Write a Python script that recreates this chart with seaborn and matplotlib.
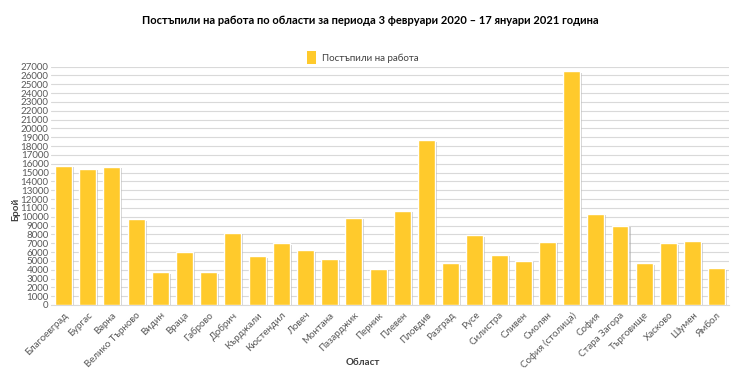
import matplotlib
matplotlib.use("Agg")
import matplotlib.pyplot as plt
import matplotlib.patheffects as pe
from matplotlib.patches import Patch
import seaborn as sns
import pandas as pd
import numpy as np

regions = ["Благоевград", "Бургас", "Варна", "Велико Търново", "Видин", "Враца",
           "Габрово", "Добрич", "Кърджали", "Кюстендил", "Ловеч", "Монтана",
           "Пазарджик", "Перник", "Плевен", "Пловдив", "Разград", "Русе",
           "Силистра", "Сливен", "Смолян", "София (столица)", "София",
           "Стара Загора", "Търговище", "Хасково", "Шумен", "Ямбол"]
values = [15750, 15450, 15650, 9700, 3700, 6050, 3700, 8200, 5500, 7000, 6200, 5200,
          9900, 4100, 10700, 18650, 4700, 7900, 5700, 5000, 7150, 26450, 10350,
          8950, 4700, 7000, 7200, 4150]
series_name = "Постъпили на работа"
y_ticks = list(range(0, 27001, 1000))

df = pd.DataFrame({"Област": regions, "Брой": values, "series": series_name})

sns.set_theme(style="white")
plt.rcParams["font.family"] = ["Lato", "DejaVu Sans"]

fig = plt.figure(figsize=(7.4, 3.7), dpi=100)
ax = fig.add_axes([0.0695, 0.1757, 0.9155, 0.6443])

bar_color = "#FFCA2C"
sns.barplot(data=df, x="Област", y="Брой", hue="series", palette=[bar_color],
            saturation=1, width=0.7, ax=ax, legend=False, zorder=3)
for p in ax.patches:
    p.set_path_effects([pe.SimplePatchShadow(offset=(1.5, -1), shadow_rgbFace="#a0a0a0", alpha=0.5),
                        pe.Normal()])

ax.set_ylim(0, 27000)
ax.set_xlim(-0.5, len(regions) - 0.5)
ax.set_yticks(y_ticks)
ax.set_yticklabels([str(t) for t in y_ticks], fontsize=7, color="#595959")
ax.yaxis.grid(True, color="#d9d9d9", linewidth=0.8, zorder=0)
ax.set_axisbelow(True)
ax.set_xticks(range(len(regions)))
ax.set_xticklabels(regions, rotation=45, ha="right", rotation_mode="anchor",
                   fontsize=7, color="#595959")
ax.set_xticks(np.arange(-0.5, len(regions), 1), minor=True)
ax.tick_params(axis="x", which="major", length=0, pad=4)
ax.tick_params(axis="x", which="minor", length=3, color="#d9d9d9", width=0.8)
ax.tick_params(axis="y", length=0, pad=2)
for s in ["top", "right", "left"]:
    ax.spines[s].set_visible(False)
ax.spines["bottom"].set_color("#d9d9d9")
ax.spines["bottom"].set_linewidth(0.8)

ax.set_xlabel("Област", fontsize=7, fontweight="bold", color="#404040", labelpad=0)
ax.xaxis.label.set_va("center")
ax.xaxis.set_label_coords(0.46, -0.24)
ax.set_ylabel("Брой", fontsize=7, fontweight="bold", color="#404040")
ax.yaxis.label.set_va("center")
ax.yaxis.set_label_coords(-0.052, 0.4)

fig.text(0.5, 0.945, "Постъпили на работа по области за периода 3 февруари 2020 – 17 януари 2021 година",
         ha="center", va="center", fontsize=8, fontweight="bold", color="#000000")

handle = Patch(facecolor=bar_color, edgecolor="none", label=series_name)
fig.legend(handles=[handle], loc="center", bbox_to_anchor=(0.49, 0.845), frameon=False,
           fontsize=7, handlelength=1.0, handleheight=1.6, handletextpad=0.6,
           labelcolor="#404040")

fig.savefig("out.png", dpi=100, facecolor="white")
